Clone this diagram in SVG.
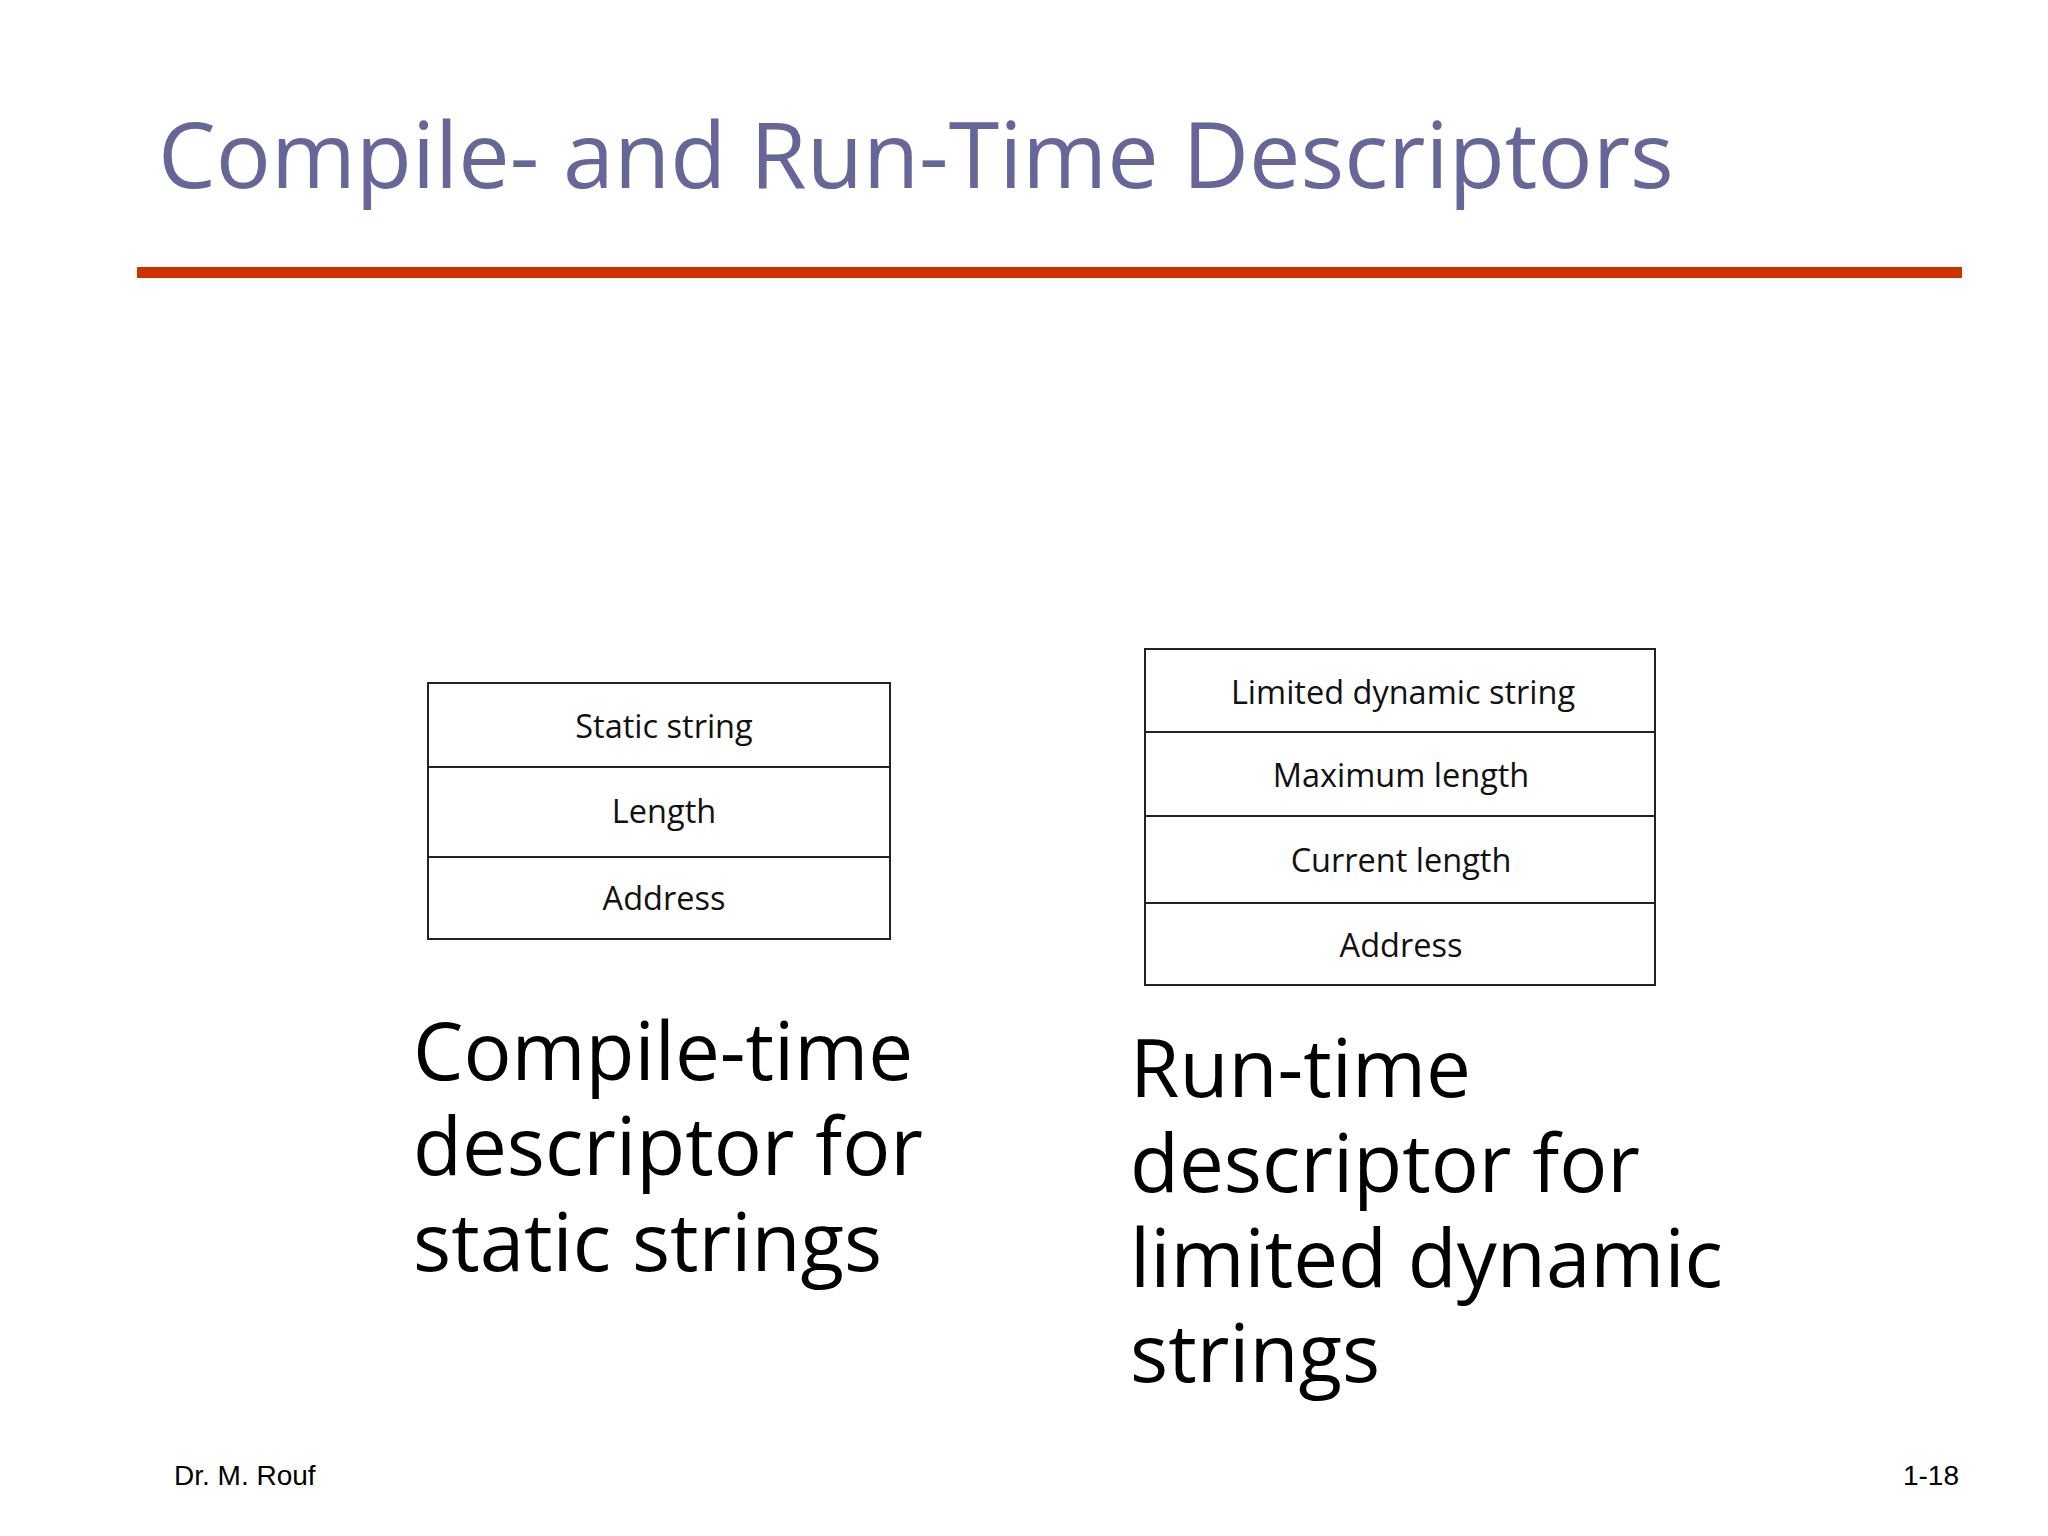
<svg xmlns="http://www.w3.org/2000/svg" width="2048" height="1536" viewBox="0 0 2048 1536">
<style>
.title{font-family:"Open Sans","Noto Sans",sans-serif;font-size:91.7px;fill:#666699}
.cell{fill:#ffffff;stroke:#222222;stroke-width:2}
.div{stroke:#222222;stroke-width:2}
.ct{font-family:"Open Sans","Noto Sans",sans-serif;font-size:32.5px;fill:#111111;text-anchor:middle}
.cap{font-family:"Open Sans","Noto Sans",sans-serif;font-size:80px;fill:#000000}
.foot{font-family:"Liberation Sans",Arial,sans-serif;font-size:28px;fill:#000000}
</style>
<rect width="2048" height="1536" fill="#ffffff"/>
<text class="title" x="158" y="188">Compile- and Run-Time Descriptors</text>
<rect x="137" y="267" width="1825" height="11" fill="#cc3300"/>
<g id="static-descriptor">
<rect class="cell" x="428" y="683" width="462" height="256"/>
<line class="div" x1="428" y1="767" x2="890" y2="767"/>
<line class="div" x1="428" y1="857" x2="890" y2="857"/>
<text class="ct" x="664" y="738">Static string</text>
<text class="ct" x="664" y="823">Length</text>
<text class="ct" x="664" y="910">Address</text>
</g>
<g id="dynamic-descriptor">
<rect class="cell" x="1145" y="649" width="510" height="336"/>
<line class="div" x1="1145" y1="732" x2="1655" y2="732"/>
<line class="div" x1="1145" y1="816" x2="1655" y2="816"/>
<line class="div" x1="1145" y1="903" x2="1655" y2="903"/>
<text class="ct" x="1403" y="704">Limited dynamic string</text>
<text class="ct" x="1401" y="787">Maximum length</text>
<text class="ct" x="1401" y="872">Current length</text>
<text class="ct" x="1401" y="957">Address</text>
</g>
<g id="caption-left">
<text class="cap" x="413" y="1080">Compile-time</text>
<text class="cap" x="413" y="1175">descriptor for</text>
<text class="cap" x="413" y="1271">static strings</text>
</g>
<g id="caption-right">
<text class="cap" x="1130" y="1097">Run-time</text>
<text class="cap" x="1130" y="1192">descriptor for</text>
<text class="cap" x="1130" y="1287">limited dynamic</text>
<text class="cap" x="1130" y="1382">strings</text>
</g>
<g id="connectors"></g>
<text class="foot" x="174" y="1485">Dr. M. Rouf</text>
<text class="foot" x="1959" y="1485" text-anchor="end">1-18</text>
</svg>
